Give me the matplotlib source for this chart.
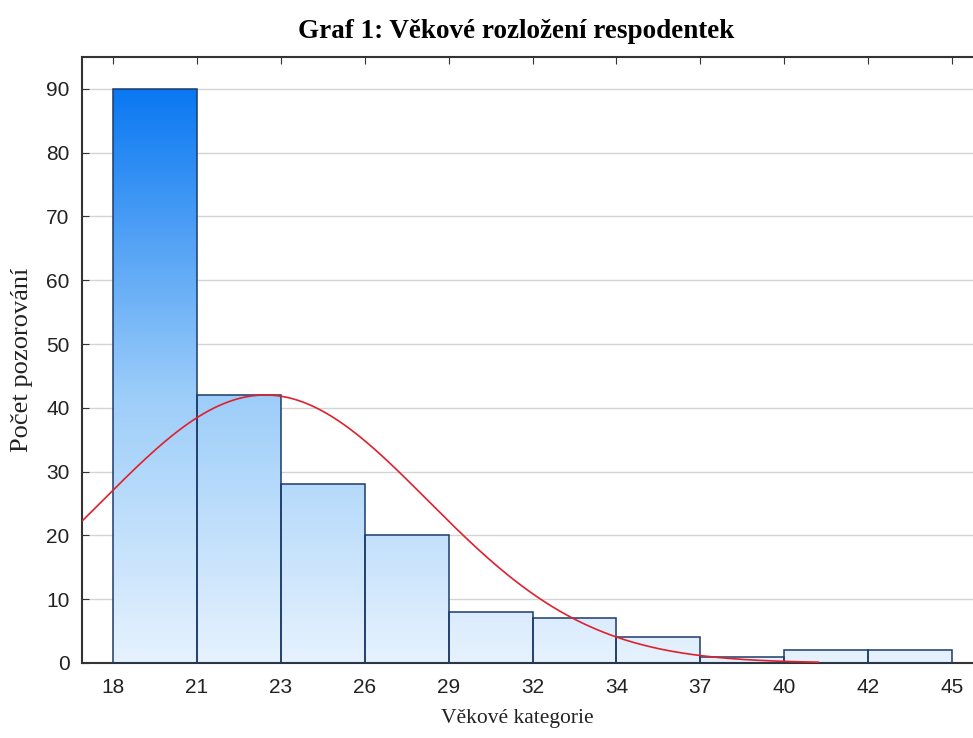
import numpy as np
import matplotlib
matplotlib.use("Agg")
import matplotlib.pyplot as plt
from matplotlib.colors import LinearSegmentedColormap

# -----------------------------
# data
# -----------------------------
edge_labels = ["18", "21", "23", "26", "29", "32", "34", "37", "40", "42", "45"]
counts = [90, 42, 28, 20, 8, 7, 4, 1, 2, 2]

# fitted normal curve (Statistica style): mean, sd, N, bin width, first edge
fit_mean = 22.9
fit_sd = 5.23
fit_n = sum(counts)
bin_width = 2.7
first_edge = 18.0
curve_from, curve_to = 16.94, 40.7

# -----------------------------
# figure
# -----------------------------
fig = plt.figure(figsize=(9.73, 7.38), dpi=100)
ax = fig.add_axes([82 / 973, 75 / 738, 891 / 973, 606 / 738])

ymax = 95
xl = (-0.37, 10.25)

cmap = LinearSegmentedColormap.from_list(
    "bars", [(0.0, "#e6f2fe"), (42 / 90, "#9ccdf9"), (1.0, "#0a78f2")])
grad = np.linspace(0, 1, 256).reshape(-1, 1) * (ymax / 90)

bars = ax.bar(np.arange(len(counts)), counts, width=1.0, align="edge",
              facecolor="none", edgecolor="#1d3b6a", linewidth=1.1, zorder=3)
for b in bars:
    im = ax.imshow(grad, cmap=cmap, vmin=0, vmax=1, origin="lower", aspect="auto",
                   extent=[xl[0], xl[1], 0, ymax], zorder=2, interpolation="bilinear")
    im.set_clip_path(b)
ax.set_xlim(*xl)
ax.set_ylim(0, ymax)

# normal curve
ages = np.linspace(curve_from, curve_to, 300)
dens = fit_n * bin_width / (fit_sd * np.sqrt(2 * np.pi)) * np.exp(-0.5 * ((ages - fit_mean) / fit_sd) ** 2)
ax.plot((ages - first_edge) / bin_width, dens, color="#e0202c", linewidth=1.2, zorder=4)

# grid + ticks
ax.set_yticks(range(0, 91, 10))
ax.yaxis.grid(True, color="#d4d4d4", linewidth=1.0, zorder=1)
ax.set_axisbelow(True)
ax.set_xticks(range(len(edge_labels)))
ax.set_xticklabels(edge_labels)
ax.tick_params(axis="x", which="both", bottom=False, top=True, direction="in",
               length=5, color="#333333", labelsize=15, pad=11)
ax.tick_params(axis="y", direction="in", length=5, color="#333333", labelsize=15, pad=9)
for lab in ax.get_xticklabels() + ax.get_yticklabels():
    lab.set_fontfamily("Liberation Sans")
    lab.set_color("#222222")

for s in ["left", "bottom", "top"]:
    ax.spines[s].set_color("#333333")
    ax.spines[s].set_linewidth(1.5)
ax.spines["right"].set_visible(False)

fig.text(516 / 973, 1 - 32 / 738, "Graf 1: Věkové rozložení respodentek",
         ha="center", va="center", fontsize=19.5, fontweight="bold",
         family="Liberation Serif")
fig.text(517 / 973, 1 - 719 / 738, "Věkové kategorie", ha="center", va="center",
         fontsize=15.5, family="Liberation Serif", color="#222222")
fig.text(22 / 973, 1 - 360 / 738, "Počet pozorování", ha="center", va="center",
         rotation=90, fontsize=19, family="Liberation Serif", color="#222222")

fig.savefig("out.png", dpi=100)
